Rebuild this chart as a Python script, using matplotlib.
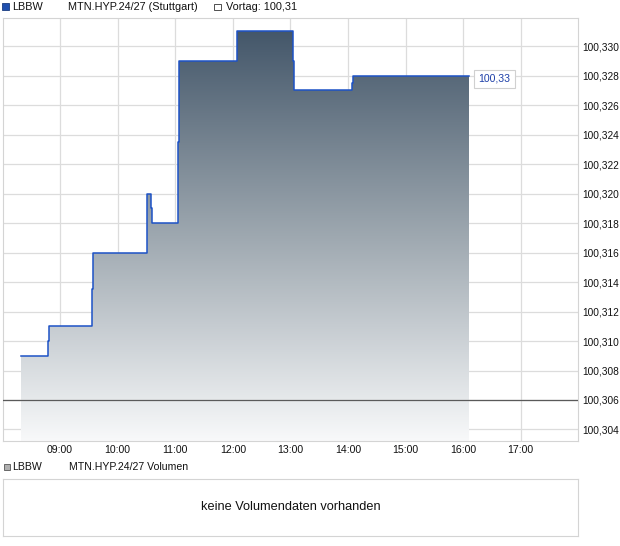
import numpy as np
import matplotlib
matplotlib.use("Agg")
import matplotlib.pyplot as plt
from matplotlib.colors import LinearSegmentedColormap
from matplotlib.patches import Rectangle

plt.rcParams["font.family"] = ["Liberation Sans", "DejaVu Sans"]

# price steps (hour of day, price after that moment)
times = [8.321, 8.790, 8.808, 9.554, 9.572, 10.504, 10.574, 10.588,
         11.053, 11.070, 12.067, 12.078, 13.050, 13.071, 14.075, 14.087, 16.096]
prices = [100.309, 100.310, 100.311, 100.3135, 100.316, 100.320, 100.319, 100.318,
          100.3235, 100.329, 100.330, 100.331, 100.329, 100.327, 100.3275, 100.328, 100.328]
prev_close_line = 100.306
last_label = "100,33"

x_ticks = [9, 10, 11, 12, 13, 14, 15, 16, 17]
x_labels = ["09:00", "10:00", "11:00", "12:00", "13:00", "14:00", "15:00", "16:00", "17:00"]
y_ticks = [100.304 + 0.002 * i for i in range(14)]

W, H = 620, 546
fig = plt.figure(figsize=(W / 100, H / 100), dpi=100)

def px_axes(l, t, r, b):
    return fig.add_axes([l / W, 1 - b / H, (r - l) / W, (b - t) / H])

ax = px_axes(2.5, 18, 578.3, 441)
ax.set_xlim(8.0, 18.0)
ax.set_ylim(100.30322, 100.33190)

grid_c = "#dcdcdc"
for s in ax.spines.values():
    s.set_color("#d4d4d4")
    s.set_linewidth(0.8)
ax.set_xticks(x_ticks)
ax.set_xticklabels(x_labels)
ax.set_yticks(y_ticks)
ax.set_yticklabels([f"{v:.3f}".replace(".", ",") for v in y_ticks])
ax.yaxis.tick_right()
ax.tick_params(axis="both", length=0, labelsize=7.6, colors="#111111")
ax.tick_params(axis="y", pad=2.5, labelsize=7.3)
ax.tick_params(axis="x", pad=3)
ax.grid(True, color=grid_c, linewidth=0.9)
ax.set_axisbelow(True)

# gradient fill under the step line
xs = np.repeat(times, 2)[1:]
ys = np.repeat(prices, 2)[:-1]
ybot = ax.get_ylim()[0]
poly_x = np.concatenate([[times[0]], xs, [times[-1]]])
poly_y = np.concatenate([[ybot], ys, [ybot]])
poly = ax.fill(poly_x, poly_y, facecolor="none", edgecolor="none")[0]
cmap = LinearSegmentedColormap.from_list("g", ["#f8f9fa", "#9ea8b0", "#44576a"])
grad = np.linspace(0, 1, 256).reshape(-1, 1)
im = ax.imshow(grad, cmap=cmap, aspect="auto", origin="lower",
               extent=[times[0], times[-1], ybot, max(prices)], zorder=2)
im.set_clip_path(poly)

ax.step(times, prices, where="post", color="#1d52c6", linewidth=1.1, zorder=3)
ax.axhline(prev_close_line, color="#5a5a5a", linewidth=0.9, zorder=4)

ax.annotate(last_label, xy=(times[-1], prices[-1]), xytext=(7, -2.5),
            textcoords="offset points", va="center", ha="left",
            fontsize=7.6, color="#1d3fa8",
            bbox=dict(boxstyle="square,pad=0.4", facecolor="white",
                      edgecolor="#d0d0d0", linewidth=0.8))

# volume panel
vax = px_axes(3, 479, 578, 536)
vax.set_xticks([])
vax.set_yticks([])
for s in vax.spines.values():
    s.set_color("#d4d4d4")
    s.set_linewidth(0.8)
vax.text(0.5, 0.5, "keine Volumendaten vorhanden", transform=vax.transAxes,
         ha="center", va="center", fontsize=9.2, color="#111111")

# header overlay in pixel coordinates
ov = fig.add_axes([0, 0, 1, 1], zorder=-1)
ov.set_xlim(0, W)
ov.set_ylim(H, 0)
ov.axis("off")
ov.add_patch(Rectangle((2, 3), 7, 7, facecolor="#1f4fae", edgecolor="#1a3c80", linewidth=0.6))
ov.text(12, 7, "LBBW", fontsize=7.8, va="center", color="#111111")
ov.text(68, 7, "MTN.HYP.24/27 (Stuttgart)", fontsize=7.8, va="center", color="#111111")
ov.add_patch(Rectangle((214, 3.5), 6.5, 6.5, facecolor="white", edgecolor="#333333", linewidth=0.6))
ov.text(226, 7, "Vortag: 100,31", fontsize=7.8, va="center", color="#111111")

ov.add_patch(Rectangle((4, 464), 5.5, 5.5, facecolor="#b0b0b0", edgecolor="#555555", linewidth=0.6))
ov.text(12, 467, "LBBW", fontsize=7.6, va="center", color="#111111")
ov.text(69, 467, "MTN.HYP.24/27 Volumen", fontsize=7.6, va="center", color="#111111")

fig.savefig("out.png", dpi=100)
